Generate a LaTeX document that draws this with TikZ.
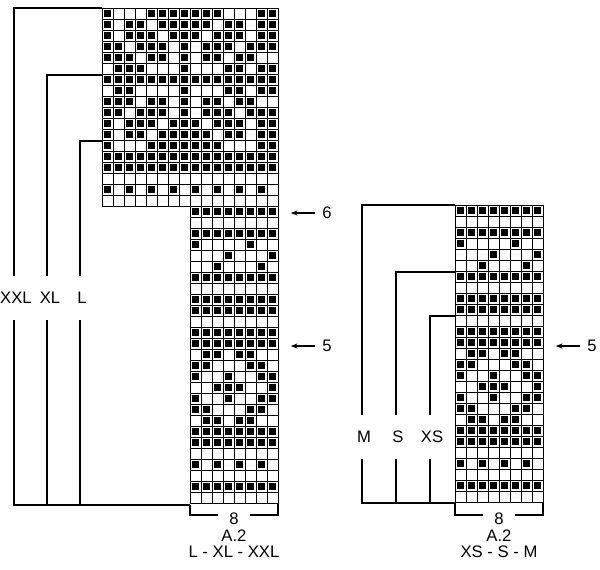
\documentclass[tikz,border=0pt]{standalone}
\usepackage{fontspec}
\setmainfont{Liberation Sans}
\usetikzlibrary{positioning,arrows.meta}
\tikzset{
    cell/.style={draw,line width=0.6pt},
    dot/.style={fill=black},
    size/.style={inner xsep=1pt,inner ysep=12pt,font=\fontsize{12.5}{14}\selectfont},
    lab/.style={inner sep=1pt,font=\fontsize{12.5}{14}\selectfont},
    bracket/.style={line width=1pt}
}
% 8 stitch repeat, 27 rows
\newcommand{\repeatrows}{%
    \foreach \r/\cols in {1/{1,...,8},3/{1,...,8},4/{1,6},5/{4,8},6/{3,7},7/{1,...,8},
        9/{1,...,8},10/{1,...,8},12/{1,...,8},13/{1,...,8},14/{2,3,5,6},15/{1,2,6,7},
        16/{1,4,7,8},17/{3,4,5,8},18/{1,4,7,8},19/{1,2,6,7},20/{2,3,5,6},
        21/{1,...,8},22/{1,...,8},24/{1,3,5,7},26/{1,...,8}}
        \foreach \c in \cols
            \fill [dot] ({(\c-1)*11+2.2},{(\r-1)*11+2.2}) rectangle +(6.6,6.6);
    \foreach \r in {1,...,27}
        \foreach \c in {1,...,8}
            \draw [cell] ({(\c-1)*11},{(\r-1)*11}) rectangle +(11,11);
}
\begin{document}
\begin{tikzpicture}[x=0.75pt,y=-0.75pt]
    \useasboundingbox (0,0) rectangle (600,569);

    % Upper part of left chart, 16 stitches
    \begin{scope}[shift={(102,8)}]
        \foreach \r/\cols in {1/{1,5,6,7,8,9,10,11,15,16},2/{1,3,4,6,7,8,9,10,12,13,15,16},
            3/{1,3,4,5,7,8,9,11,12,13,15,16},4/{1,2,4,5,6,8,10,11,12,14,15,16},
            5/{1,2,3,5,6,8,10,11,13,14},6/{2,3,4,8,12,13,15,16},7/{1,...,16},
            8/{2,3,8,12,13,15,16},9/{1,2,3,5,6,8,10,11,13,14},10/{1,2,4,5,6,8,10,11,12,14,15,16},
            11/{1,3,4,5,7,8,9,11,12,13,15,16},12/{1,3,4,6,7,8,9,10,12,13,15,16},
            13/{1,5,6,7,8,9,10,11,15,16},14/{1,...,16},15/{1,...,16},17/{1,3,...,15}}
            \foreach \c in \cols
                \fill [dot] ({(\c-1)*11+2.2},{(\r-1)*11+2.2}) rectangle +(6.6,6.6);
        \foreach \r in {1,...,18}
            \foreach \c in {1,...,16}
                \draw [cell] ({(\c-1)*11},{(\r-1)*11}) rectangle +(11,11);
    \end{scope}

    % Lower part of left chart and right chart
    \begin{scope}[shift={(190,206)}]
        \repeatrows
    \end{scope}
    \begin{scope}[shift={(455,205)}]
        \repeatrows
    \end{scope}

    % Sizes, left
    \node [size] (xxl) at (16,298) {XXL};
    \node [size] (xl) at (50,298) {XL};
    \node [size] (l) at (82,298) {L};
    \coordinate (lbot) at (190,505);
    \draw [bracket] (102,8) -| (14,0 |- xxl.north);
    \draw [bracket] (102,75) -| (47,0 |- xl.north);
    \draw [bracket] (102,141) -| (80,0 |- l.north);
    \draw [bracket] (14,0 |- xxl.south) |- (lbot);
    \draw [bracket] (47,0 |- xl.south) -- (47,0 |- lbot);
    \draw [bracket] (80,0 |- l.south) -- (80,0 |- lbot);

    % Sizes, right
    \node [size] (m) at (364,437) {M};
    \node [size] (s) at (398,437) {S};
    \node [size] (xs) at (432,437) {XS};
    \coordinate (rbot) at (455,503);
    \draw [bracket] (455,205) -| (362,0 |- m.north);
    \draw [bracket] (455,272) -| (396,0 |- s.north);
    \draw [bracket] (455,316) -| (430,0 |- xs.north);
    \draw [bracket] (362,0 |- m.south) |- (rbot);
    \draw [bracket] (396,0 |- s.south) -- (396,0 |- rbot);
    \draw [bracket] (430,0 |- xs.south) -- (430,0 |- rbot);

    % Row marks
    \node [lab] (six) at (327,213) {6};
    \node [lab] (fiveL) at (327,346) {5};
    \node [lab] (fiveR) at (592,346) {5};
    \draw [-{Stealth[length=5pt]},line width=0.8pt] (six.west) ++(-6,0) -- ++(-24,0);
    \draw [-{Stealth[length=5pt]},line width=0.8pt] (fiveL.west) ++(-6,0) -- ++(-24,0);
    \draw [-{Stealth[length=5pt]},line width=0.8pt] (fiveR.west) ++(-6,0) -- ++(-24,0);

    % Width marks and titles
    \node [lab] (eightL) at (234,519) {8};
    \node [lab,below=1pt of eightL] (aL) {A.2};
    \node [lab,below=1pt of aL] (sizesL) {L - XL - XXL};
    \draw [bracket] (190,505) -- (190,515) -- (218,515);
    \draw [bracket] (278,503) -- (278,515) -- (250,515);
    \node [lab] (eightR) at (499,519) {8};
    \node [lab,below=1pt of eightR] (aR) {A.2};
    \node [lab,below=1pt of aR] (sizesR) {XS - S - M};
    \draw [bracket] (455,503) -- (455,515) -- (483,515);
    \draw [bracket] (543,502) -- (543,515) -- (515,515);
\end{tikzpicture}
\end{document}
